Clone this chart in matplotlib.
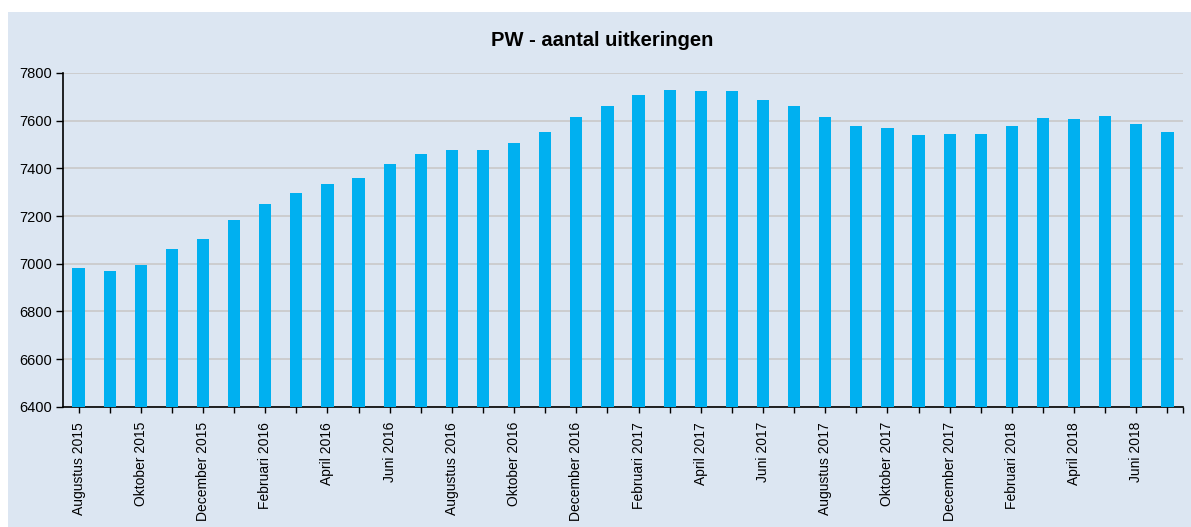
import matplotlib
matplotlib.use("Agg")
import matplotlib.pyplot as plt
import numpy as np
from matplotlib.patches import Rectangle

# maanden aug 2015 t/m jul 2018
start_jaar, start_maand = 2015, 8
uitkeringen = [6982, 6971, 6993, 7060, 7105, 7183, 7252, 7296, 7336, 7358,
               7420, 7459, 7477, 7477, 7505, 7551, 7617, 7663, 7708, 7730,
               7724, 7724, 7685, 7663, 7617, 7579, 7568, 7538, 7545, 7545,
               7579, 7613, 7607, 7618, 7585, 7551]

maand_namen = ["Januari", "Februari", "Maart", "April", "Mei", "Juni", "Juli",
               "Augustus", "September", "Oktober", "November", "December"]

labels = []
jaar, maand = start_jaar, start_maand
for i in range(len(uitkeringen)):
    labels.append(f"{maand_namen[maand - 1]} {jaar}")
    maand += 1
    if maand > 12:
        maand = 1
        jaar += 1

plt.rcParams['font.family'] = ['Liberation Sans', 'DejaVu Sans']

fig = plt.figure(figsize=(11.91, 5.27), dpi=100)
fig.patch.set_facecolor('white')
fig.patches.append(Rectangle((8 / 1191, 0), 1 - 8 / 1191, 1 - 12 / 527,
                             transform=fig.transFigure, facecolor='#dce6f2',
                             edgecolor='none', zorder=-10))

ax = fig.add_axes([63 / 1191, 120.3 / 527, 1120 / 1191, 333.7 / 527])
ax.set_facecolor('none')

x = np.arange(len(uitkeringen))
ax.bar(x, uitkeringen, width=0.39, color='#00b0f0', zorder=3)

ax.set_xlim(-0.5, len(uitkeringen) - 0.5)
ax.set_ylim(6400, 7800)
ax.set_yticks(np.arange(6400, 7801, 200))
ax.yaxis.grid(True, color='#c9c9c9', linewidth=1.2, zorder=0)
ax.set_axisbelow(True)

ax.set_xticks(x)
ax.set_xticklabels([l if i % 2 == 0 else "" for i, l in enumerate(labels)],
                   rotation=90, fontsize=10)
ax.set_xticks([len(uitkeringen) - 0.5], minor=True)
ax.tick_params(axis='x', which='both', length=4, width=1, pad=7, colors='black')
ax.tick_params(axis='y', length=5, width=1, pad=3, labelsize=10.5)

for s in ['top', 'right']:
    ax.spines[s].set_visible(False)
for s in ['left', 'bottom']:
    ax.spines[s].set_color('black')
    ax.spines[s].set_linewidth(1.2)

fig.text(0.506, 1 - 40 / 527, "PW - aantal uitkeringen", ha='center', va='center',
         fontsize=14.5, fontweight='bold')

fig.savefig("out.png", dpi=100)
